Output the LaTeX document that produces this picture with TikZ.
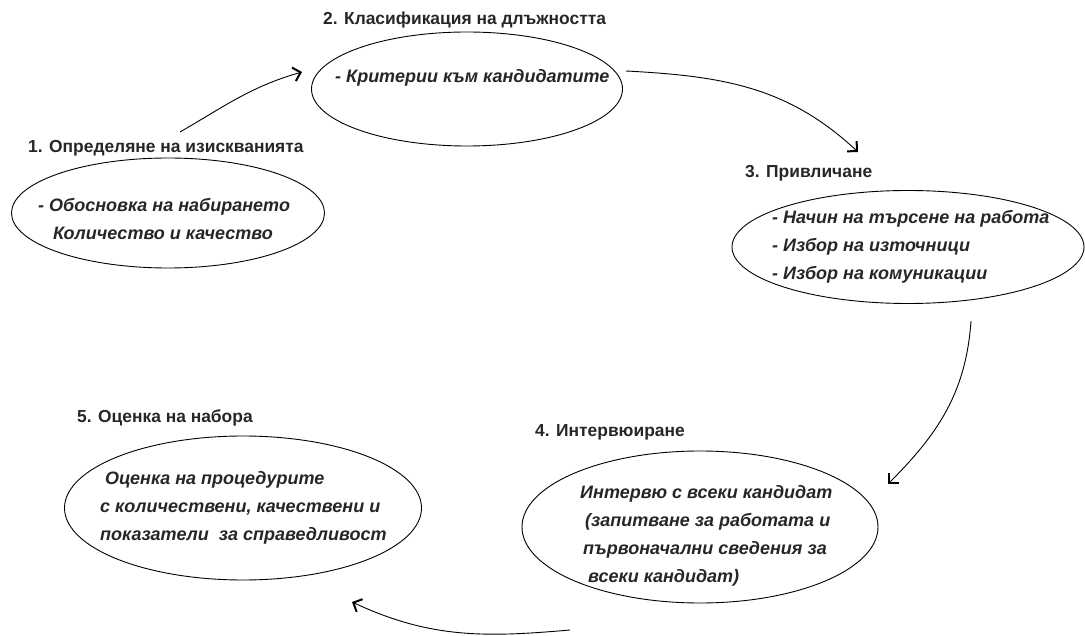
\documentclass[tikz,border=0pt]{standalone}
\usepackage{fontspec}
\setmainfont{Liberation Sans}
\usepackage{tikz}
\usetikzlibrary{arrows.meta,shapes.geometric}

\begin{document}
\begin{tikzpicture}[
  x=1pt, y=1pt,
  bubble/.style={ellipse, draw=black, line width=0.9pt, inner sep=0pt},
  head/.style={anchor=west, inner sep=0pt, font=\fontsize{17.4}{20}\selectfont\bfseries, text=black!85},
  body/.style={anchor=west, inner sep=0pt, align=left,
    font=\fontsize{18}{28}\selectfont\bfseries\itshape, text=black!85},
  line/.style={-{Straight Barb[length=7pt, width=14pt, line width=2pt]}, draw=black, line width=0.9pt}
]
\useasboundingbox (0,0) rectangle (1085,-636);

% stages
\node[bubble, minimum width=313pt, minimum height=110pt] (req) at (168,-213) {};
\node[bubble, minimum width=311pt, minimum height=114pt] (class) at (467,-89) {};
\node[bubble, minimum width=352pt, minimum height=113pt] (attract) at (908,-247) {};
\node[bubble, minimum width=356pt, minimum height=152pt] (interview) at (700,-527) {};
\node[bubble, minimum width=357pt, minimum height=144pt] (eval) at (243,-508) {};

\node[head] (req-title) at (28,-148) {1. Определяне на изискванията};
\node[head] (class-title) at (323,-20) {2. Класификация на длъжността};
\node[head] (attract-title) at (745,-173) {3. Привличане};
\node[head] (interview-title) at (535,-432) {4. Интервюиране};
\node[head] (eval-title) at (77,-418) {5. Оценка на набора};

\node[body] (req-text) at (38,-219) {- Обосновка на набирането\\\hspace{15pt}Количество и качество};
\node[body] (class-text) at (335,-78) {- Критерии към кандидатите};
\node[body] (attract-text) at (772,-247) {- Начин на търсене на работа\\- Избор на източници\\- Избор на комуникации};
\node[body] (interview-text) at (580,-536) {Интервю с всеки кандидат\\\hspace{5pt}(запитване за работата и\\\hspace{3pt}първоначални сведения за\\\hspace{8pt}всеки кандидат)};
\node[body] (eval-text) at (100,-508) {\hspace{5pt}Оценка на процедурите\\с количествени, качествени и\\показатели\ \ за справедливост};

% cycle
\coordinate (from-req) at (180,-132);
\coordinate (to-class) at (302,-72);
\coordinate (from-class) at (626,-71);
\coordinate (to-attract) at (858,-152);
\coordinate (from-attract) at (971,-321);
\coordinate (to-interview) at (888,-484);
\coordinate (from-interview) at (570,-630);
\coordinate (to-eval) at (352,-602);
\draw[line] (from-req) to[out=30, in=-164] (to-class);
\draw[line] (from-class) to[out=-3, in=137] (to-attract);
\draw[line] (from-attract) to[out=-94, in=45] (to-interview);
\draw[line] (from-interview) to[out=185, in=-25] (to-eval);
\end{tikzpicture}
\end{document}
